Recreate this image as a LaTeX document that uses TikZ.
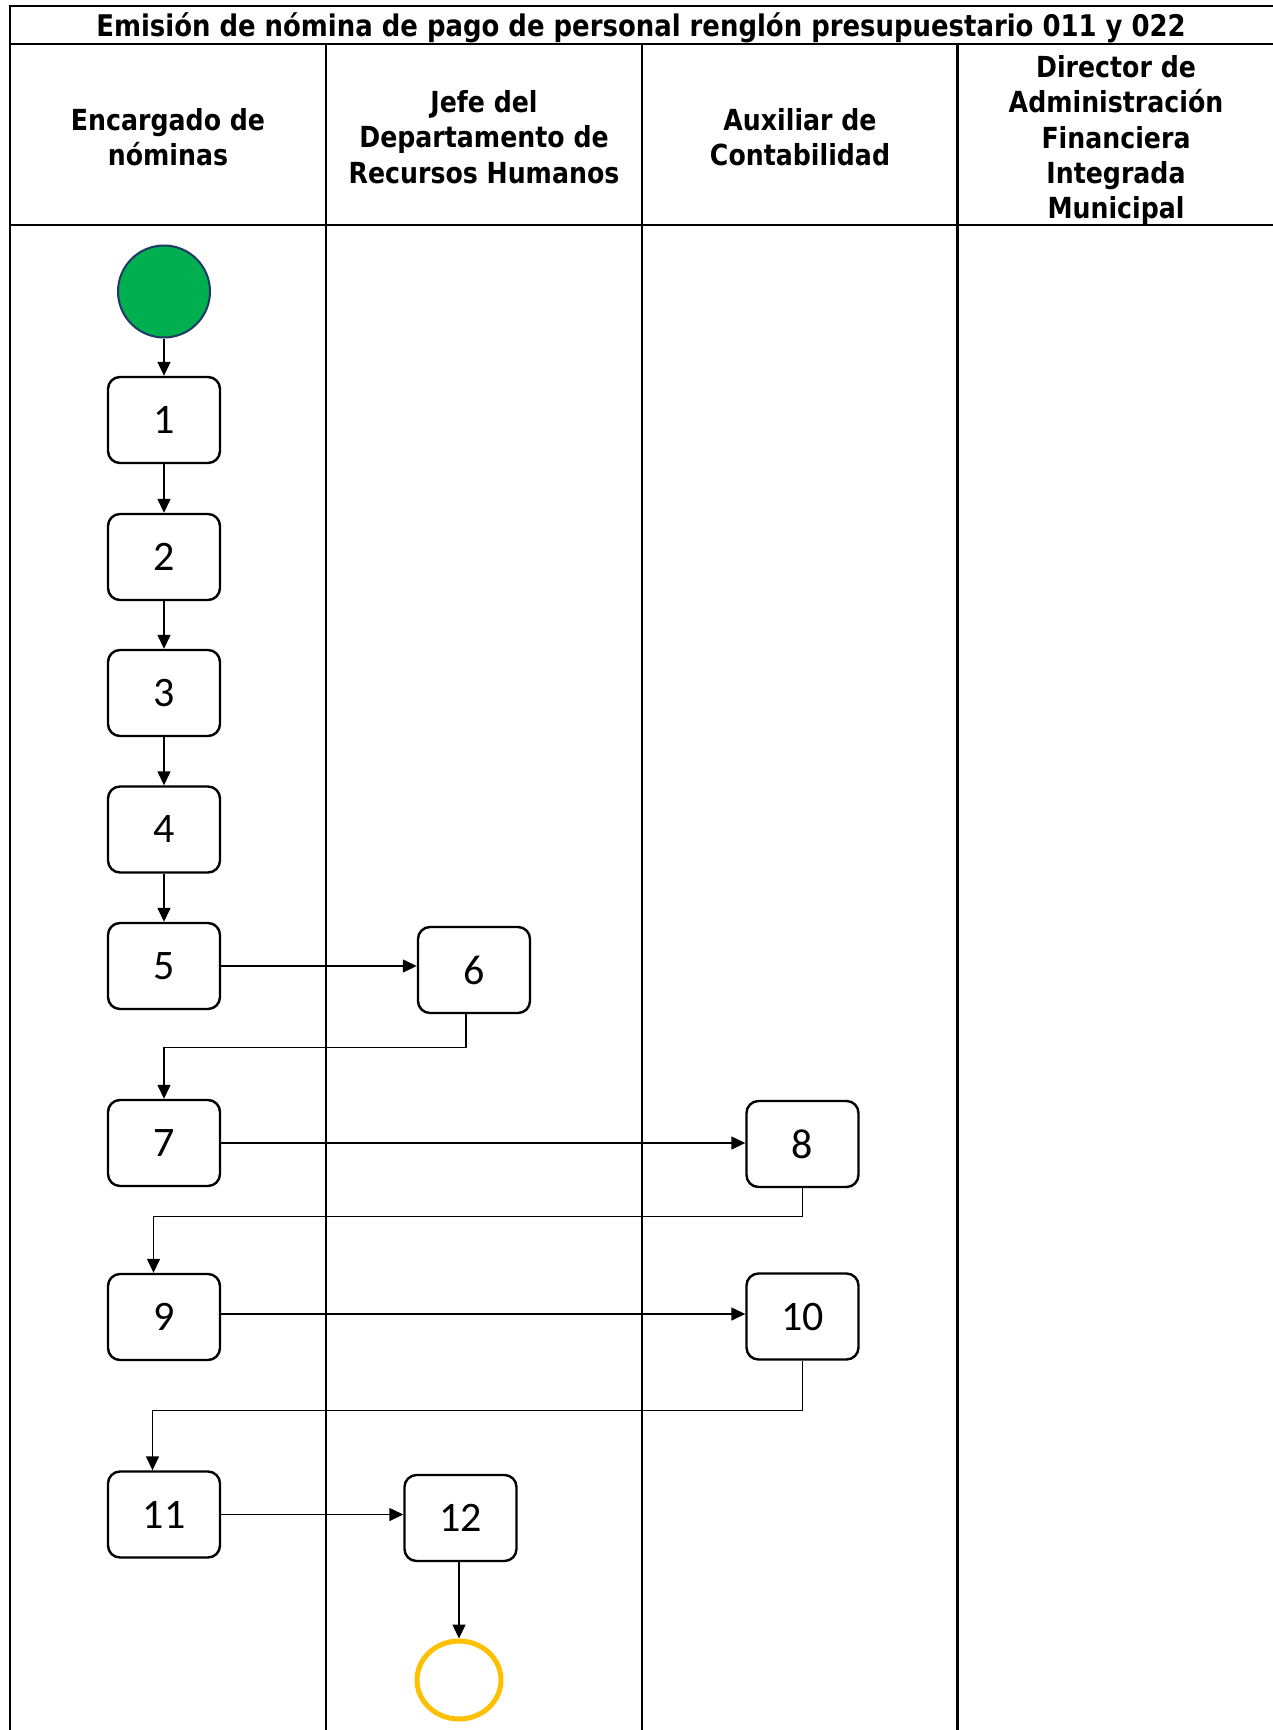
\documentclass[tikz,border=0pt]{standalone}
\usepackage{fontspec}
\setmainfont{DejaVu Sans}
\newfontfamily\hdrfont[FakeStretch=0.87]{DejaVu Sans}
\newfontfamily\numfont{Carlito}
\usetikzlibrary{arrows.meta,shapes.geometric}
\definecolor{startgreen}{HTML}{00B050}
\definecolor{startborder}{HTML}{1F3864}
\definecolor{endorange}{HTML}{FFC000}
\begin{document}
\begin{tikzpicture}[x=1pt,y=-1pt,
  lane/.style={line width=2.6pt,line cap=rect},
  stepbox/.style={draw,line width=2.4pt,rounded corners=12pt,minimum width=112pt,minimum height=86pt,fill=white,inner sep=0pt,font=\numfont\fontsize{42}{45}\selectfont},
  hdr/.style={align=center,font=\hdrfont\bfseries\fontsize{29}{35.3}\selectfont,inner sep=0pt},
  arr/.style={line width=1.4pt,-{Triangle[length=14pt,width=13pt]}}]
\useasboundingbox (0,0) rectangle (1273,1730);
% lanes
\draw[lane] (10,1730) -- (10,6) -- (1280,6);
\draw[lane] (10,44) -- (1280,44);
\draw[lane] (10,225) -- (1280,225);
\draw[lane] (326,44) -- (326,1735);
\draw[lane] (642,44) -- (642,1735);
\draw[lane] (957.5,44) -- (957.5,1735);
% headers
\node[hdr,font=\hdrfont\bfseries\fontsize{29.8}{35.3}\selectfont] (title) at (641,28) {Emisión de nómina de pago de personal renglón presupuestario 011 y 022};
\node[hdr] (h1) at (168,137) {Encargado de\\nóminas};
\node[hdr] (h2) at (484,137) {Jefe del\\Departamento de\\Recursos Humanos};
\node[hdr] (h3) at (800,137) {Auxiliar de\\Contabilidad};
\node[hdr] (h4) at (1116,140) {Director de\\Administración\\Financiera\\Integrada\\Municipal};
% nodes
\node[circle,draw=startborder,line width=2pt,fill=startgreen,minimum size=92pt,inner sep=0pt] (start) at (164,291.5) {};
\node[stepbox] (n1) at (164,420) {1};
\node[stepbox] (n2) at (164,557) {2};
\node[stepbox] (n3) at (164,693) {3};
\node[stepbox] (n4) at (164,829.5) {4};
\node[stepbox] (n5) at (164,966) {5};
\node[stepbox] (n6) at (474,970) {6};
\node[stepbox] (n7) at (164,1143) {7};
\node[stepbox] (n8) at (802.5,1144) {8};
\node[stepbox] (n9) at (164,1317) {9};
\node[stepbox] (n10) at (802.5,1316.5) {10};
\node[stepbox] (n11) at (164,1514.5) {11};
\node[stepbox] (n12) at (460.5,1518) {12};
\node[ellipse,draw=endorange,line width=5pt,minimum width=84pt,minimum height=78pt,inner sep=0pt] (end) at (459,1680) {};
% connectors
\draw[arr] (start.south) -- (start.south |- n1.north);
\draw[arr] (n1) -- (n2);
\draw[arr] (n2) -- (n3);
\draw[arr] (n3) -- (n4);
\draw[arr] (n4) -- (n5);
\draw[arr] (n5.east) -- (n5.east -| n6.west);
\draw[arr] ([xshift=-8pt]n6.south) -- ++(0,33) -| (n7.north);
\draw[arr] (n7.east) -- (n7.east -| n8.west);
\draw[arr] (n8.south) -- ++(0,28.5) -| ([xshift=-10.5pt]n9.north);
\draw[arr] ([yshift=3pt]n9.east) -- ([yshift=3pt]n9.east -| n10.west);
\draw[arr] (n10.south) -- ++(0,50) -| ([xshift=-11.5pt]n11.north);
\draw[arr] (n11.east) -- (n11.east -| n12.west);
\draw[arr] (n12.south -| end.north) -- (end.north);
\end{tikzpicture}
\end{document}
